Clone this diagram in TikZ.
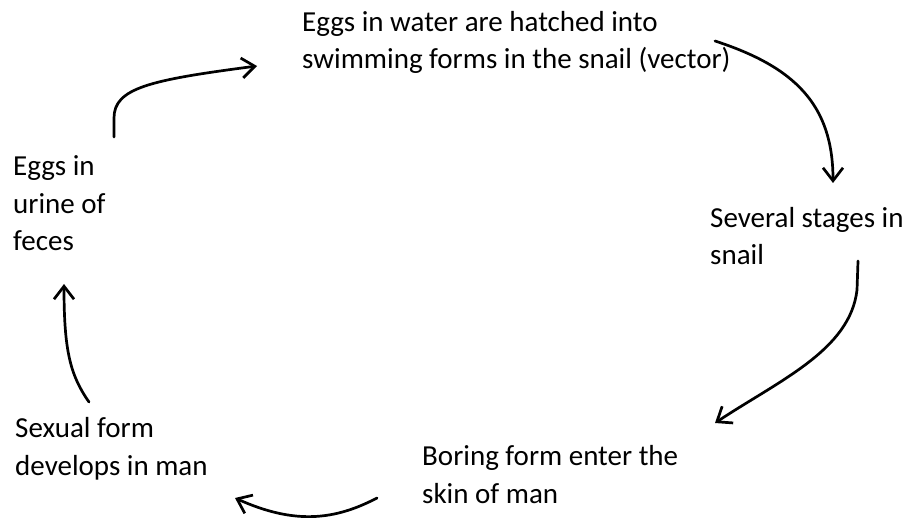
\documentclass[tikz,border=0pt]{standalone}
\usepackage{fontspec}
\setmainfont{Carlito}
\usetikzlibrary{arrows.meta}
\begin{document}
\begin{tikzpicture}[x=1pt,y=-1pt,
  label/.style={anchor=base west,align=left,inner sep=0pt,
    font=\fontsize{29}{37.5}\selectfont},
  cyc/.style={line width=2.7pt,line cap=round,
    -{Straight Barb[length=13pt,width=20pt,line width=2.7pt]}}]
\useasboundingbox (0,0) rectangle (909,518);
% stage labels (placed by the baseline of their last line)
\node[label] (hatch) at (302,69) {Eggs in water are hatched into\\swimming forms in the snail (vector)};
\node[label] (stages) at (710,265) {Several stages in\\snail};
\node[label] (boring) at (422,503) {Boring form enter the\\skin of man};
\node[label] (sexual) at (15,475) {Sexual form\\develops in man};
\node[label] (eggs) at (13,251) {Eggs in\\urine of\\feces};
% arrow end points
\coordinate (a1s) at (114,137); \coordinate (a1e) at (257,66);
\coordinate (a2s) at (715,41);  \coordinate (a2e) at (833,183);
\coordinate (a3s) at (858,261); \coordinate (a3e) at (715,423);
\coordinate (a4s) at (377,498); \coordinate (a4e) at (235,498);
\coordinate (a5s) at (89,402);  \coordinate (a5e) at (64,284);
% cycle arrows
\draw[cyc] (a1s) -- (114,118) .. controls (114,88) and (150,80) .. (a1e);
\draw[cyc] (a2s) .. controls (795,67) and (833,105) .. (a2e);
\draw[cyc] (a3s) -- (857,290) .. controls (850,350) and (780,380) .. (a3e);
\draw[cyc] (a4s) .. controls (335,520) and (295,525) .. (a4e);
\draw[cyc] (a5s) .. controls (70,375) and (64,350) .. (a5e);
\end{tikzpicture}
\end{document}
